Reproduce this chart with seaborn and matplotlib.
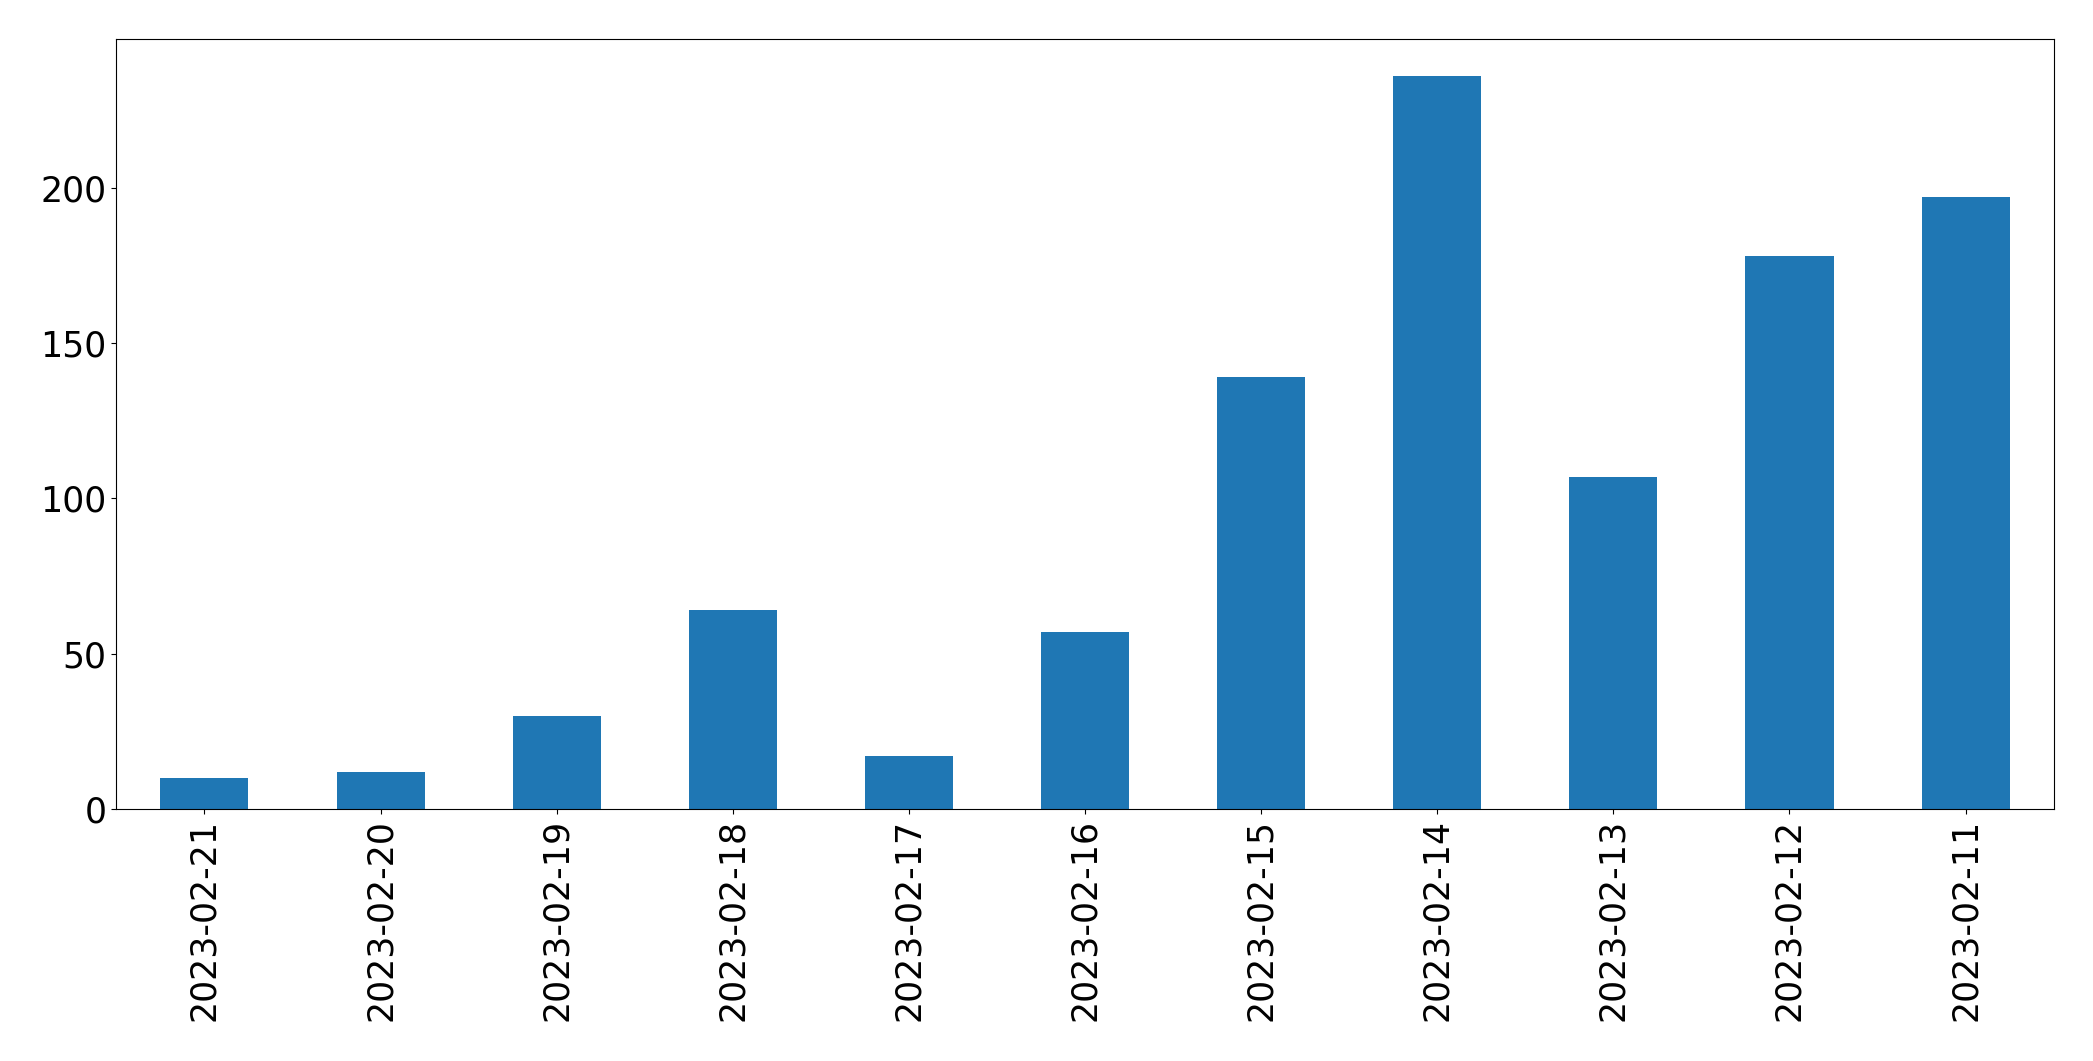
import matplotlib
matplotlib.use("Agg")
import matplotlib.pyplot as plt
import seaborn as sns
import pandas as pd

# daily counts, newest first (as in the source)
dates = ["2023-02-21", "2023-02-20", "2023-02-19", "2023-02-18", "2023-02-17",
         "2023-02-16", "2023-02-15", "2023-02-14", "2023-02-13", "2023-02-12",
         "2023-02-11"]
counts = [10, 12, 30, 64, 17, 57, 139, 236, 107, 178, 197]

df = pd.DataFrame({"date": dates, "count": counts})

fig, ax = plt.subplots(figsize=(20.93, 10.61), dpi=100)
sns.barplot(data=df, x="date", y="count", color="#1f77b4", saturation=1,
            width=0.5, order=dates, linewidth=0, ax=ax)
ax.set_xlim(-0.5, len(dates) - 0.5)
ax.set_ylim(0, max(counts) * 1.05)
ax.set_xlabel("")
ax.set_ylabel("")
ax.tick_params(axis="both", labelsize=25)
plt.setp(ax.get_xticklabels(), rotation=90)
fig.subplots_adjust(left=0.0556, right=0.9812, top=0.963, bottom=0.2375)
fig.savefig("out.png", dpi=100)
